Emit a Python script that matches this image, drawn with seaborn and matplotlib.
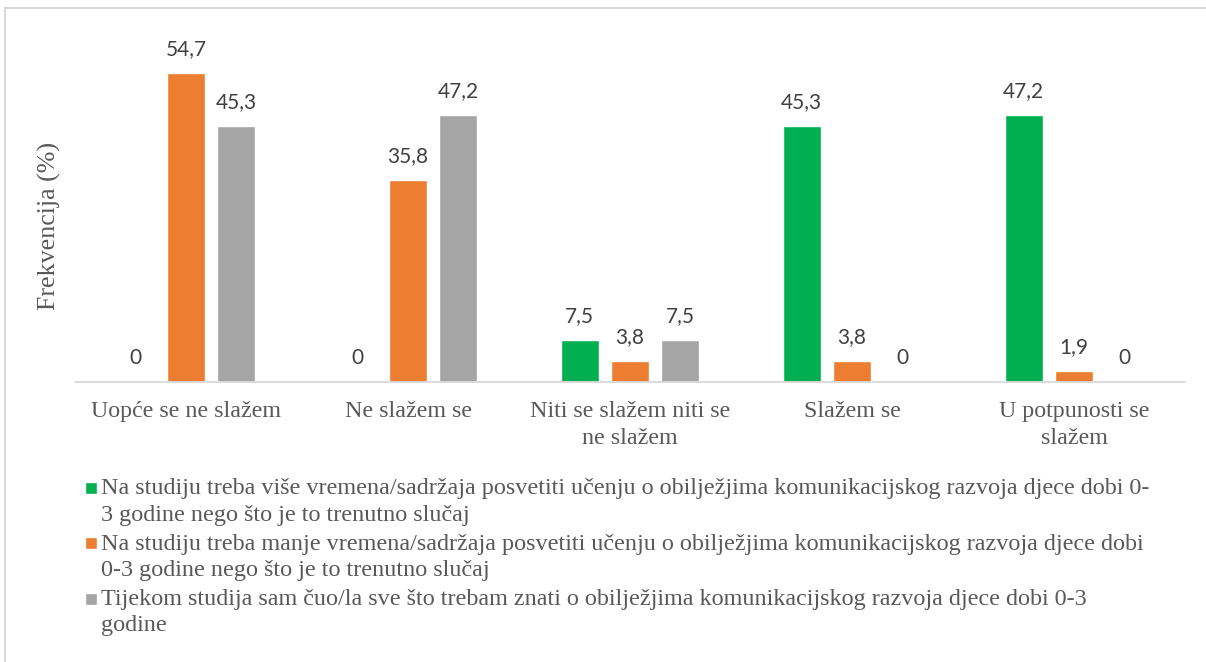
import pandas as pd
import matplotlib.pyplot as plt
import seaborn as sns
from matplotlib.patches import Rectangle
from matplotlib.legend_handler import HandlerPatch

# answer categories (x axis)
categories = ["Uopće se ne slažem", "Ne slažem se", "Niti se slažem niti se\nne slažem",
              "Slažem se", "U potpunosti se\nslažem"]

# statement names (legend), wrapped like in the original
series = [
    "Na studiju treba više vremena/sadržaja posvetiti učenju o obilježjima komunikacijskog razvoja djece dobi 0-\n3 godine nego što je to trenutno slučaj",
    "Na studiju treba manje vremena/sadržaja posvetiti učenju o obilježjima komunikacijskog razvoja djece dobi\n0-3 godine nego što je to trenutno slučaj",
    "Tijekom studija sam čuo/la sve što trebam znati o obilježjima komunikacijskog razvoja djece dobi 0-3\ngodine",
]

vise = [0, 0, 7.5, 45.3, 47.2]
manje = [54.7, 35.8, 3.8, 3.8, 1.9]
sve = [45.3, 47.2, 7.5, 0, 0]

colors = ["#00B050", "#ED7D31", "#A5A5A5"]

rows = []
for name, vals in zip(series, [vise, manje, sve]):
    for cat, v in zip(categories, vals):
        rows.append({"odgovor": cat, "tvrdnja": name, "postotak": v})
df = pd.DataFrame(rows)

sns.set_style("white")
plt.rcParams["font.family"] = ["Liberation Serif", "DejaVu Serif"]

fig = plt.figure(figsize=(12.06, 6.62), dpi=100)
ax = fig.add_axes([0.0622, 0.423, 0.9204, 0.512])

sns.barplot(data=df, x="odgovor", y="postotak", hue="tvrdnja", order=categories,
            hue_order=series, palette=colors, errorbar=None, width=0.68, gap=0.24,
            saturation=1, ax=ax)

for cont in ax.containers:
    labs = [f"{b.get_height():.1f}".replace(".", ",") if b.get_height() > 0 else "0"
            for b in cont]
    ax.bar_label(cont, labels=labs, padding=10, fontsize=15, color="#404040",
                 family=["Lato", "DejaVu Sans"])

ax.set_ylim(0, 60)
ax.set_xlim(-0.5, len(categories) - 0.5)
ax.set_yticks([])
ax.set_xlabel("")
ax.set_ylabel("Frekvencija (%)", fontsize=18.7, color="#595959")
ax.yaxis.set_label_coords(-0.013, 0.46)
ax.tick_params(axis="x", length=0, pad=14, labelsize=17.3, labelcolor="#595959")
for t in ax.get_xticklabels():
    t.set_linespacing(1.32)
for s in ["top", "right", "left"]:
    ax.spines[s].set_visible(False)
ax.spines["bottom"].set_color("#D9D9D9")
ax.spines["bottom"].set_linewidth(1.3)


# square marker next to the first line of each two-line entry
def square_first_line(legend, orig_handle, xdescent, ydescent, width, height, fontsize):
    return Rectangle((-xdescent, 0.665 * fontsize), width, width)


handles, labels = ax.get_legend_handles_labels()
ax.get_legend().remove()
leg = fig.legend(handles, labels, loc="upper left", bbox_to_anchor=(85 / 1206, 0.2772),
                 frameon=False, fontsize=17.4, labelcolor="#595959", handlelength=0.5,
                 handleheight=0.5, handletextpad=0.17, labelspacing=0.34,
                 borderpad=0, borderaxespad=0,
                 handler_map={Rectangle: HandlerPatch(patch_func=square_first_line)})
for t in leg.get_texts():
    t.set_linespacing(1.32)

# light chart-area border
fig.patches.append(Rectangle((5 / 1206, -0.01), 1.01, 1 - 8 / 662 + 0.01,
                             transform=fig.transFigure, fill=False,
                             edgecolor="#D9D9D9", linewidth=1.5))

fig.savefig("out.png", dpi=100)
